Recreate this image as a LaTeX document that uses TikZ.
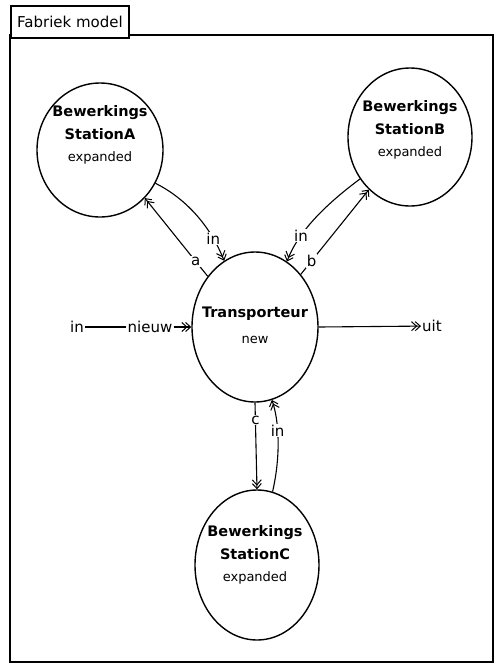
\documentclass[tikz,border=0pt]{standalone}
\usepackage{fontspec}
\setmainfont{DejaVu Sans}
\usetikzlibrary{shapes.geometric,arrows.meta}
\begin{document}
\begin{tikzpicture}[x=1pt,y=-1pt,
  station/.style={ellipse,draw,line width=1.4pt,inner sep=0pt},
  conn/.style={line width=1.1pt},
  arr/.style={conn,-{Straight Barb[length=5pt,width=9pt,line width=1pt,sep=-2.5pt]Straight Barb[length=5pt,width=9pt,line width=1pt]}},
  lbl/.style={font=\fontsize{15}{17}\selectfont,inner sep=1pt,fill=white},
  stext/.style={align=center,font=\fontsize{14.5}{22.5}\selectfont},
]
\useasboundingbox (0,0) rectangle (502,665);
\draw[line width=2.5pt] (10,35) rectangle (493,662);
\node[draw,line width=2pt,fill=white,minimum width=118pt,minimum height=32pt,
      anchor=north west,inner sep=0pt,font=\fontsize{15}{18}\selectfont] (title) at (10,5) {Fabriek model};

\node[station,minimum width=126pt,minimum height=134pt] (A) at (100,150) {};
\node[station,minimum width=124pt,minimum height=138pt] (B) at (410,137) {};
\node[station,minimum width=126pt,minimum height=150pt] (T) at (255,327) {};
\node[station,minimum width=124pt,minimum height=150pt] (C) at (257,565) {};

\node[stext] (At) at (100,135) {\textbf{Bewerkings}\\\textbf{StationA}\\{\fontsize{13}{22.5}\selectfont expanded}};
\node[stext] (Bt) at (410,130) {\textbf{Bewerkings}\\\textbf{StationB}\\{\fontsize{13}{22.5}\selectfont expanded}};
\node[stext] (Ct) at (255,555) {\textbf{Bewerkings}\\\textbf{StationC}\\{\fontsize{13}{22.5}\selectfont expanded}};
\node[align=center,font=\fontsize{14.5}{26}\selectfont] (Tt) at (255,325) {\textbf{Transporteur}\\{\fontsize{13}{26}\selectfont new}};

\draw[arr] (T.133) -- node[lbl,pos=0.19] (la) {a} (A.313);
\draw[arr] (A.329) .. controls (185,198) and (210,225) .. node[lbl,pos=0.78] (lin1) {in} (T.115);
\draw[arr] (T.49) -- node[lbl,pos=0.16] (lb) {b} (B.232);
\draw[arr] (B.220) .. controls (325,205) and (298,232) .. node[lbl,pos=0.7] (lin2) {in} (T.64.5);
\draw[arr] (T.270) -- node[lbl,pos=0.2] (lc) {c} (C.90);
\draw[arr] (C.78.5) .. controls (281,455) and (279,420) .. node[lbl,pos=0.6] (lin3) {in} (T.283.5);

\node[lbl] (inL) at (77,327) {in};
\node[lbl] (nieuw) at (150,327) {nieuw};
\draw[conn] (inL) -- (nieuw);
\draw[arr] (nieuw) -- (T.180);
\node[lbl,anchor=west] (uit) at (421,326) {uit};
\draw[arr] (T.0) -- (uit);
\end{tikzpicture}
\end{document}
